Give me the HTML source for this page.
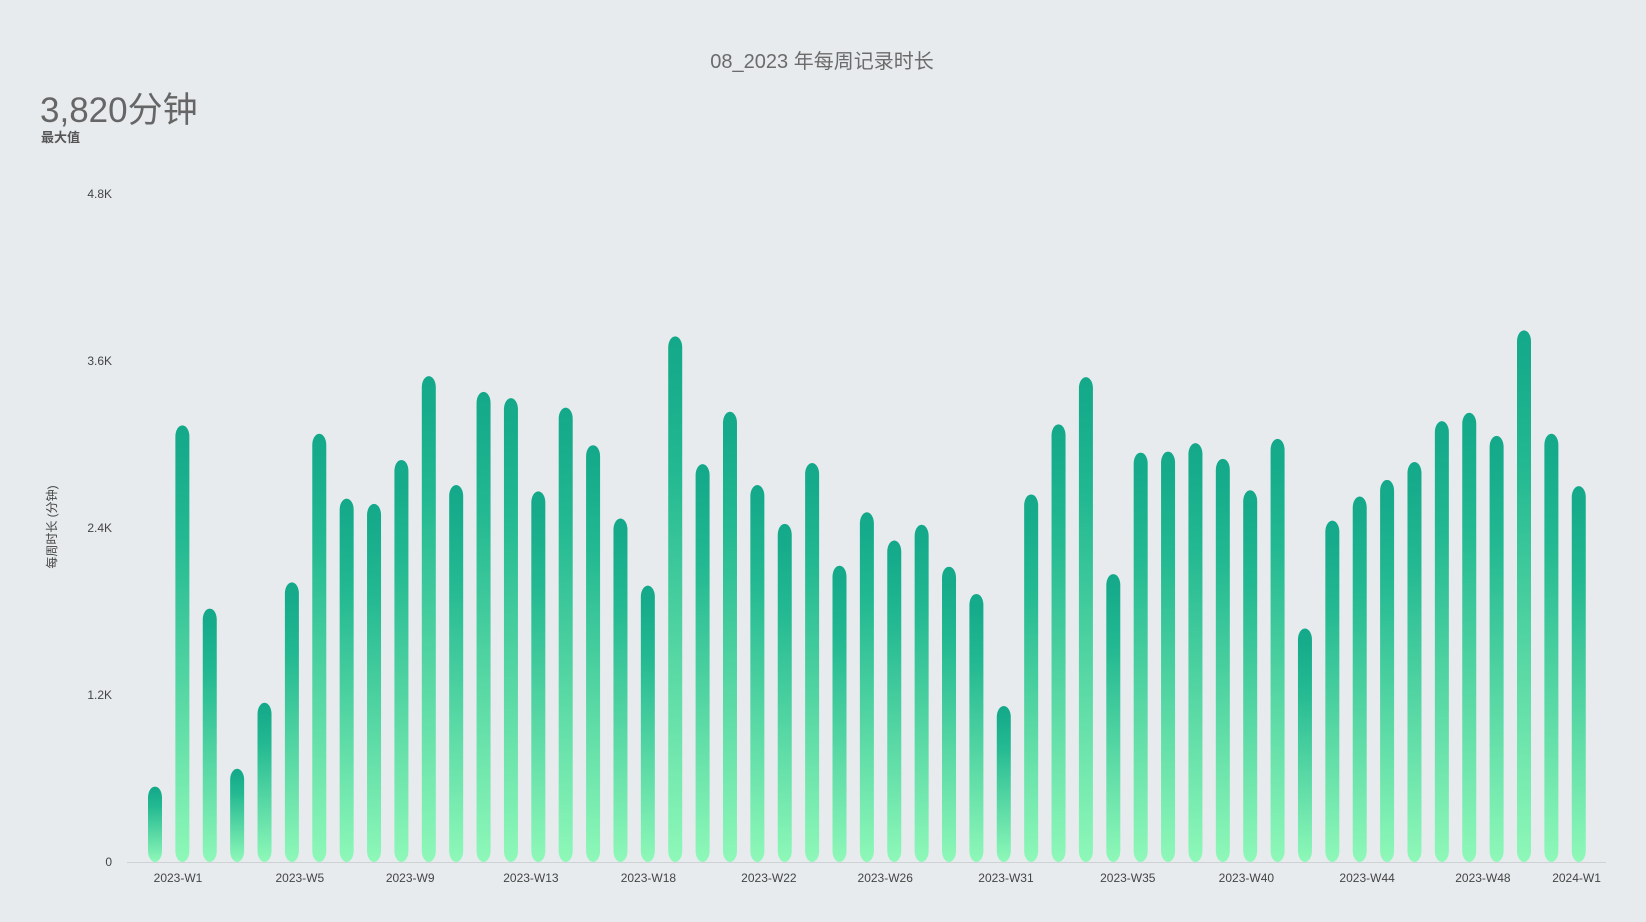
<!DOCTYPE html>
<html><head><meta charset="utf-8"><style>
html,body{margin:0;padding:0;background:#e7ebee;}
svg{display:block;font-family:"Liberation Sans","Noto Sans CJK SC",sans-serif;}
</style></head><body>
<svg id="chart" width="1646" height="922" viewBox="0 0 1646 922">
<defs><linearGradient id="g" x1="0" y1="0" x2="0" y2="1"><stop offset="0" stop-color="#12a889"/><stop offset="0.25" stop-color="#22b891"/><stop offset="1" stop-color="#8ef8b8"/></linearGradient></defs>
<text x="822" y="68" text-anchor="middle" font-size="20" fill="#6b6b6b">08_2023 年每周记录时长</text>
<text x="40" y="122" font-size="35" fill="#666">3,820分钟</text>
<text x="41" y="142" font-size="13" font-weight="bold" fill="#555">最大值</text>
<text transform="translate(56,527) rotate(-90)" text-anchor="middle" font-size="12" fill="#444">每周时长 (分钟)</text>
<g id="yt"></g>
<line x1="127" y1="862.5" x2="1606" y2="862.5" stroke="#cfd2d5" stroke-width="1"/>
<g id="bars"></g>
<g id="xl"></g>
</svg>
<script>
const values = [542,3137,1821,670,1144,2009,3077,2611,2573,2889,3491,2709,3378,3333,2663,3265,2995,2468,1986,3777,2859,3235,2709,2430,2867,2129,2513,2310,2423,2122,1926,1121,2641,3145,3484,2069,2942,2949,3010,2897,2671,3040,1678,2453,2626,2746,2874,3168,3228,3062,3820,3077,2701];
const yTicks = [0,1200,2400,3600,4800];
const yTickLabels = ["0","1.2K","2.4K","3.6K","4.8K"];
const xLabels = ["2023-W1","2023-W5","2023-W9","2023-W13","2023-W18","2023-W22","2023-W26","2023-W31","2023-W35","2023-W40","2023-W44","2023-W48","2024-W1"];
const xLabelPos = [0.84,5.29,9.32,13.73,18.02,22.42,26.67,31.08,35.53,39.86,44.27,48.5,51.92];
const NS="http://www.w3.org/2000/svg";
const y0=862, yMax=4800, pxH=668;
function y(v){return y0 - v/yMax*pxH;}
function x(i){return 155 + i*27.38;}
const yt=document.getElementById('yt');
yTicks.forEach((t,k)=>{
  const e=document.createElementNS(NS,'text');
  
  
  e.setAttribute('x',112);e.setAttribute('y',y(t)+4);
  e.setAttribute('text-anchor','end');e.setAttribute('font-size','12');e.setAttribute('fill','#444');
  e.textContent=yTickLabels[k];yt.appendChild(e);
});
const bars=document.getElementById('bars');
values.forEach((v,i)=>{
  const w=14, top=y(v);
  const r=document.createElementNS(NS,'rect');
  
  
  r.setAttribute('x',x(i)-w/2);r.setAttribute('y',top);
  r.setAttribute('width',w);r.setAttribute('height',Math.max(0,y0-top));
  r.setAttribute('rx',7);r.setAttribute('ry',11);
  r.setAttribute('fill','url(#g)');
  bars.appendChild(r);
});
const xl=document.getElementById('xl');
xLabels.forEach((l,k)=>{
  const e=document.createElementNS(NS,'text');
  
  
  e.setAttribute('x',x(xLabelPos[k]));e.setAttribute('y',882);
  e.setAttribute('text-anchor','middle');e.setAttribute('font-size','12');e.setAttribute('fill','#444');
  e.textContent=l;xl.appendChild(e);
});
</script>
</body></html>
